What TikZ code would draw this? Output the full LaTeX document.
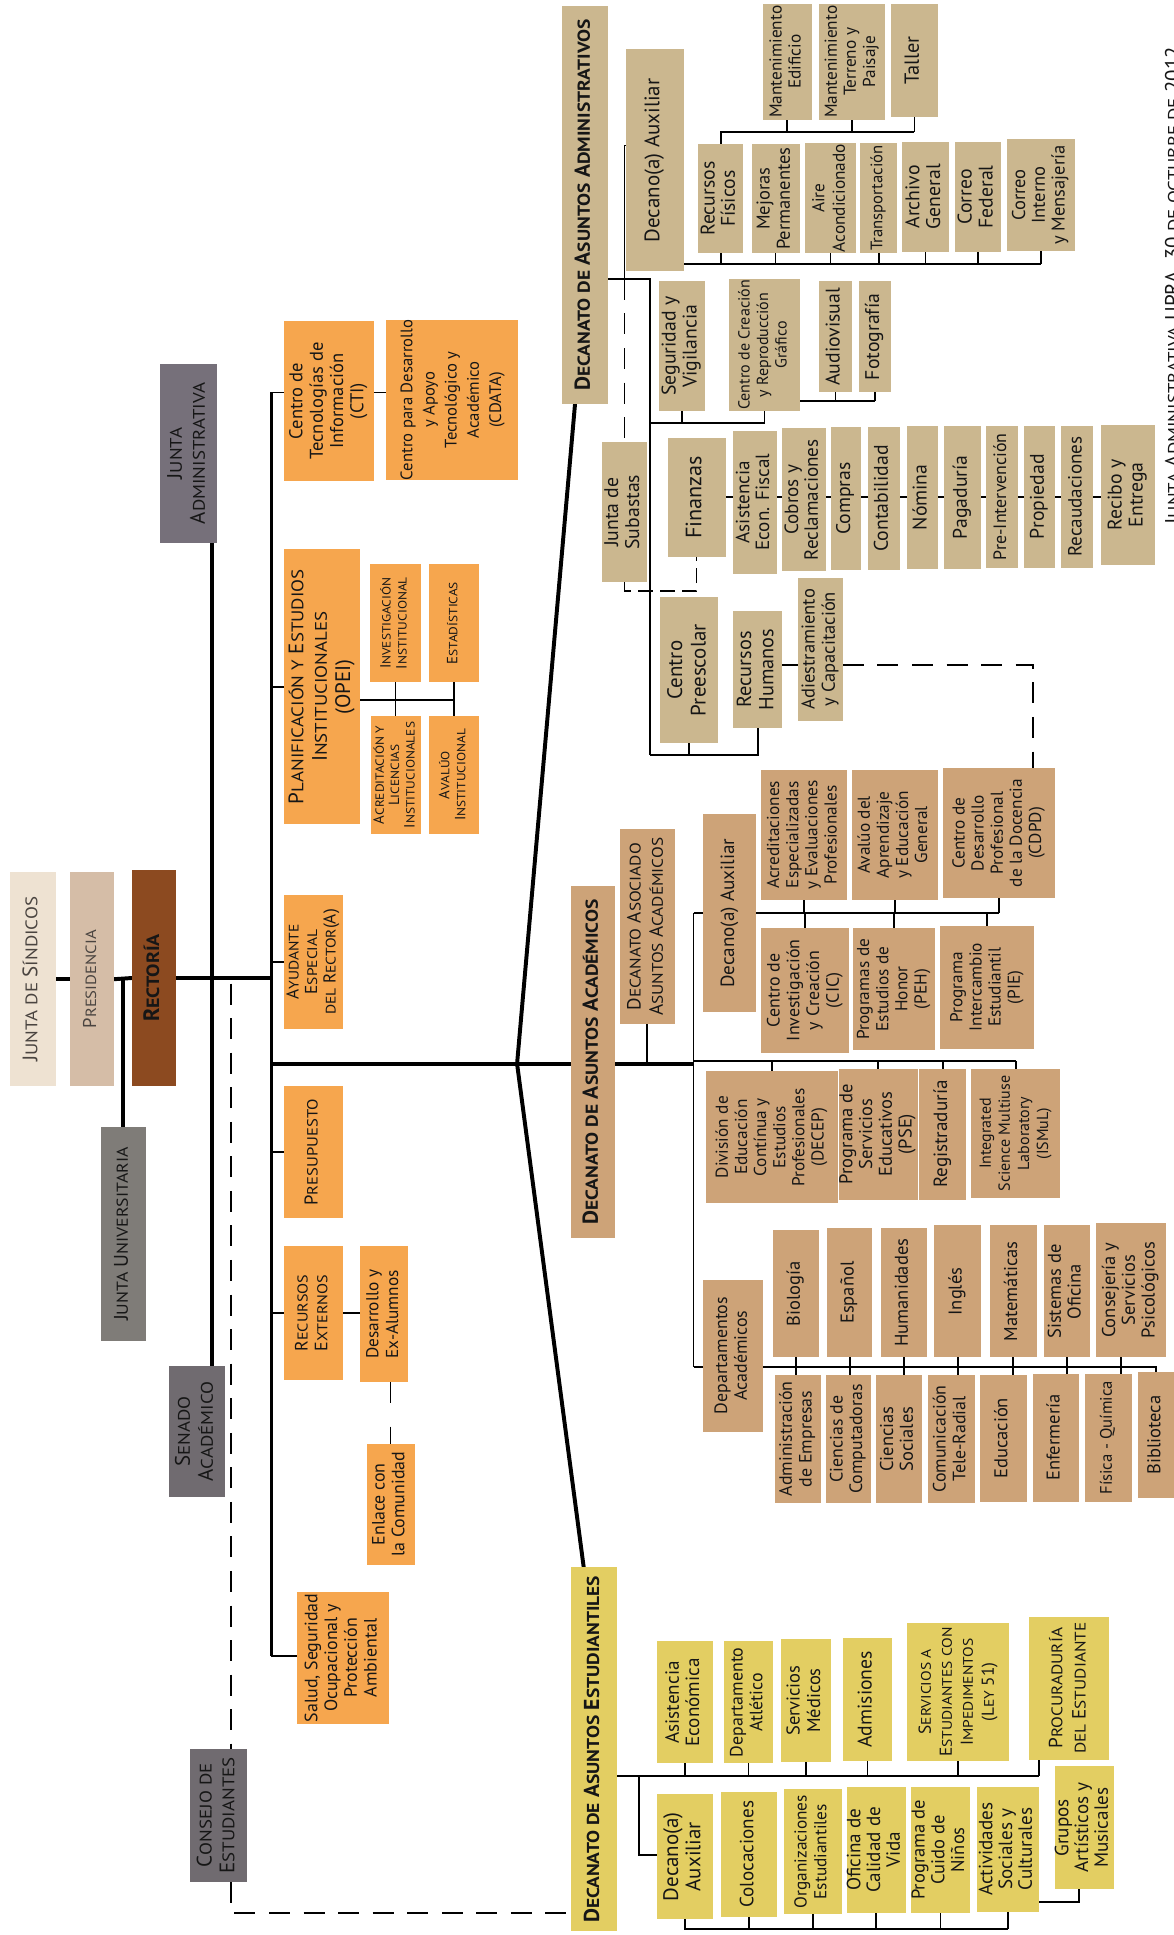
\documentclass[tikz,border=0pt]{standalone}
\usepackage{fontspec}
\setmainfont{PT Sans}
\usepackage{graphicx}
\usetikzlibrary{calc}
\pgfdeclarelayer{bg}
\pgfsetlayers{bg,main}
\definecolor{admC}{HTML}{CBB78F}
\definecolor{acaC}{HTML}{CDA378}
\definecolor{estC}{HTML}{E3CE62}
\definecolor{orgC}{HTML}{F6A64E}
\definecolor{jsC}{HTML}{EEE2D2}
\definecolor{prC}{HTML}{D5BDA7}
\definecolor{rcC}{HTML}{8C4A20}
\definecolor{juC}{HTML}{7F7C78}
\definecolor{jaC}{HTML}{76707A}
\definecolor{seC}{HTML}{706B70}
\definecolor{txC}{HTML}{161616}
\definecolor{lgC}{HTML}{4A4440}
\newcommand\sca[1]{\scalebox{0.9}[0.8]{\MakeUppercase{#1}}}
\newcommand\fsz[2]{\fontsize{#1}{#2}\selectfont}
\newcommand\bx[7]{\node[bxs,#2,minimum width={(#5-#3)*1pt},minimum height={(#6-#4)*1pt}] (#1) at ({(#3+#5)/2},{(#4+#6)/2}) {\rotatebox{90}{\begin{tabular}{@{}c@{}}#7\end{tabular}}};}
\tikzset{
 bxs/.style={inner sep=0pt,outer sep=0pt,text=txC,font=\fsz{14}{15.5}},
 fz/.style 2 args={font=\fsz{#1}{#2}},
 adm/.style={fill=admC}, aca/.style={fill=acaC}, est/.style={fill=estC}, org/.style={fill=orgC},
 hdr/.style={font=\fsz{17.5}{20}\bfseries},
 jsb/.style={fill=jsC,fz={17}{19},text=lgC},
 prb/.style={fill=prC,fz={15}{17},text=lgC},
 rcb/.style={fill=rcC,font=\fsz{18}{20}\bfseries},
 gja/.style={fill=jaC,fz={17}{18.5}},
 jub/.style={fill=juC,fz={16}{18}},
 seb/.style={fill=seC,fz={17}{18.5}},
 thk/.style={line width=3.2pt},
 thn/.style={line width=1.4pt},
 dsh/.style={line width=1.4pt,dash pattern=on 17pt off 11pt},
 dsh2/.style={line width=1.4pt,dash pattern=on 12pt off 6pt},
 note/.style={inner sep=0pt,font=\fsz{17}{19},text=txC}
}
\begin{document}
\begin{tikzpicture}[x=1pt,y=-1pt]
\useasboundingbox (0,0) rectangle (951,1568);
\begin{pgfonlayer}{bg}
\fill[white] (0,0) rectangle (951,1568);
\end{pgfonlayer}
% ---------- left column
\bx{jadm}{gja}{130}{295}{176}{440}{J\sca{unta}\\A\sca{dministrativa}}
\bx{jsin}{jsb}{8}{707}{45}{880}{J\sca{unta de} S\sca{índicos}}
\bx{pres}{prb}{57}{707}{92}{880}{P\sca{residencia}}
\bx{rect}{rcb}{107}{705}{143}{880}{R\sca{ectoría}}
\bx{juni}{jub}{82}{913}{118}{1087}{J\sca{unta} U\sca{niversitaria}}
\bx{sen}{seb}{137}{1107}{182}{1213}{S\sca{enado}\\A\sca{cadémico}}
\bx{cons}{seb}{154}{1417}{200}{1525}{C\sca{onsejo de}\\E\sca{studiantes}}
% ---------- second column
\bx{cti}{org,fz={15}{16.5}}{230}{260}{303}{390}{Centro de\\Tecnologías de\\Información\\(CTI)}
\bx{cdata}{org,fz={13.5}{18}}{313}{260}{420}{388}{Centro para Desarrollo\\y Apoyo\\Tecnológico y\\Académico\\(CDATA)}
\bx{opei}{org,fz={17}{19}}{230}{445}{292}{668}{P\sca{lanificación y} E\sca{studios}\\I\sca{nstitucionales}\\(OPEI)}
\bx{inv}{org,fz={12}{13}}{300}{457}{341}{553}{I\sca{nvestigación}\\I\sca{nstitucional}}
\bx{esta}{org,fz={12}{13}}{348}{457}{388}{553}{E\sca{stadísticas}}
\bx{acr}{org,fz={12}{12.5}}{301}{580}{341}{676}{A\sca{creditación y}\\L\sca{icencias}\\I\sca{nstitucionales}}
\bx{ava}{org,fz={12}{13}}{348}{580}{388}{676}{A\sca{valúo}\\I\sca{nstitucional}}
\bx{ayu}{org,fz={14}{15}}{230}{725}{278}{834}{A\sca{yudante}\\E\sca{special}\\\sca{del} R\sca{ector}(A)}
\bx{pre}{org,fz={15}{16.5}}{230}{880}{278}{987}{P\sca{resupuesto}}
\bx{rext}{org,fz={14.5}{16}}{230}{1010}{278}{1118}{R\sca{ecursos}\\E\sca{xternos}}
\bx{dex}{org,fz={14}{16}}{292}{1010}{331}{1120}{Desarrollo y\\Ex-Alumnos}
\bx{enl}{org,fz={14.5}{16}}{297}{1170}{336}{1268}{Enlace con\\la Comunidad}
\bx{sal}{org,fz={14.5}{16}}{241}{1290}{315}{1397}{Salud, Seguridad\\Ocupacional y\\Protección\\Ambiental}
% ---------- administrativos
\bx{daa}{adm,hdr}{455}{5}{493}{327}{D\sca{ecanato de} A\sca{suntos} A\sca{dministrativos}}
\bx{dauxA}{adm,fz={17}{19}}{507}{40}{554}{220}{Decano(a) Auxiliar}
\bx{me}{adm,fz={14}{15.5}}{618}{3}{658}{97}{Mantenimiento\\Edificio}
\bx{mt}{adm,fz={14}{15.5}}{664}{3}{717}{97}{Mantenimiento\\Terreno y\\Paisaje}
\bx{ta}{adm,fz={16.5}{18}}{722}{3}{760}{95}{Taller}
\bx{rf}{adm,fz={16}{16.5}}{566}{117}{602}{205}{Recursos\\Físicos}
\bx{mp}{adm,fz={15}{16.5}}{609}{117}{648}{205}{Mejoras\\Permanentes}
\bx{aa}{adm,fz={14}{16.5}}{652}{116}{694}{205}{Aire\\Acondicionado}
\bx{tr}{adm,fz={13.5}{15}}{697}{116}{727}{205}{Transportación}
\bx{ag}{adm,fz={16}{17}}{731}{115}{769}{204}{Archivo\\General}
\bx{cf}{adm,fz={16}{17}}{774}{115}{811}{204}{Correo\\Federal}
\bx{ci}{adm,fz={15}{16}}{816}{113}{871}{203}{Correo\\Interno\\y Mensajería}
\bx{sv}{adm,fz={16}{17}}{534}{228}{571}{333}{Seguridad y\\Vigilancia}
\bx{ccr}{adm,fz={13}{15}}{591}{226}{648}{333}{Centro de Creación\\y Reproducción\\Gráfico}
\bx{av}{adm,fz={16}{17}}{664}{228}{690}{318}{Audiovisual}
\bx{fo}{adm,fz={16}{17}}{696}{228}{722}{318}{Fotografía}
\bx{jsub}{adm,fz={16}{17}}{488}{358}{524}{472}{Junta de\\Subastas}
\bx{fin}{adm,fz={18}{19}}{541}{355}{588}{451}{Finanzas}
\bx{aef}{adm,fz={15.5}{16}}{594}{349}{630}{465}{Asistencia\\Econ. Fiscal}
\bx{cyr}{adm,fz={15.5}{16}}{634}{347}{669}{463}{Cobros y\\Reclamaciones}
\bx{com}{adm,fz={16}{17}}{673}{346}{698}{462}{Compras}
\bx{con}{adm,fz={16}{17}}{703}{346}{729}{462}{Contabilidad}
\bx{nom}{adm,fz={16}{17}}{735}{345}{760}{461}{Nómina}
\bx{pag}{adm,fz={16}{17}}{765}{345}{795}{461}{Pagaduría}
\bx{pin}{adm,fz={14.5}{16}}{799}{345}{825}{460}{Pre-Intervención}
\bx{prop}{adm,fz={16}{17}}{830}{345}{855}{460}{Propiedad}
\bx{rec}{adm,fz={15.5}{17}}{860}{345}{886}{460}{Recaudaciones}
\bx{rye}{adm,fz={16}{17}}{892}{344}{936}{458}{Recibo y\\Entrega}
\bx{cpre}{adm,fz={17}{19}}{535}{484}{582}{602}{Centro\\Preescolar}
\bx{rh}{adm,fz={16.5}{18}}{594}{495}{634}{590}{Recursos\\Humanos}
\bx{adi}{adm,fz={15}{16.5}}{647}{468}{683}{584}{Adiestramiento\\y Capacitación}
% ---------- academicos
\bx{daac}{aca,hdr}{463}{718}{498}{1003}{D\sca{ecanato de} A\sca{suntos} A\sca{cadémicos}}
\bx{dasoc}{aca,fz={15.5}{18}}{502}{672}{547}{830}{D\sca{ecanato} A\sca{sociado}\\A\sca{suntos} A\sca{cadémicos}}
\bx{dauxC}{aca,fz={15.5}{17}}{570}{660}{613}{820}{Decano(a) Auxiliar}
\bx{aeep}{aca}{617}{624}{686}{729}{Acreditaciones\\Especializadas\\y Evaluaciones\\Profesionales}
\bx{aaeg}{aca}{690}{624}{760}{729}{Avalúo del\\Aprendizaje\\y Educación\\General}
\bx{cdpd}{aca}{764}{622}{855}{728}{Centro de\\Desarrollo\\Profesional\\de la Docencia\\(CDPD)}
\bx{cic}{aca,fz={14.5}{16}}{617}{752}{688}{853}{Centro de\\Investigación\\y Creación\\(CIC)}
\bx{peh}{aca}{691}{752}{758}{851}{Programas de\\Estudios de\\Honor\\(PEH)}
\bx{pie}{aca}{762}{750}{838}{850}{Programa\\Intercambio\\Estudiantil\\(PIE)}
\bx{decep}{aca}{572}{868}{679}{975}{División de\\Educación\\Contínua y\\Estudios\\Profesionales\\(DECEP)}
\bx{pse}{aca,fz={15}{16}}{682}{866}{741}{972}{Programa de\\Servicios\\Educativos\\(PSE)}
\bx{reg}{aca,fz={15.5}{17}}{745}{866}{783}{972}{Registraduría}
\bx{ism}{aca,fz={13}{15.5}}{787}{866}{859}{971}{Integrated\\Science Multiuse\\Laboratory\\(ISMuL)}
\bx{dep}{aca,fz={14.5}{16}}{570}{1037}{618}{1160}{Departamentos\\Académicos}
\bx{bio}{aca,fz={15}{16}}{626}{997}{664}{1100}{Biología}
\bx{esp}{aca,fz={15}{16}}{670}{995}{707}{1100}{Español}
\bx{hum}{aca,fz={15}{16}}{714}{995}{751}{1100}{Humanidades}
\bx{ing}{aca,fz={15}{16}}{757}{993}{795}{1100}{Inglés}
\bx{mat}{aca,fz={15}{16}}{802}{993}{840}{1100}{Matemáticas}
\bx{sis}{aca,fz={15}{16}}{846}{993}{883}{1100}{Sistemas de\\Oficina}
\bx{csp}{aca,fz={15}{16}}{888}{991}{945}{1100}{Consejería y\\Servicios\\Psicológicos}
\bx{ade}{aca,fz={14.5}{16}}{628}{1114}{665}{1218}{Administración\\de Empresas}
\bx{cco}{aca,fz={14.5}{16}}{669}{1114}{706}{1218}{Ciencias de\\Computadoras}
\bx{cso}{aca,fz={15}{16}}{710}{1114}{747}{1218}{Ciencias\\Sociales}
\bx{ctr}{aca,fz={14.5}{16}}{752}{1114}{790}{1218}{Comunicación\\Tele-Radial}
\bx{edu}{aca,fz={15}{16}}{794}{1114}{832}{1217}{Educación}
\bx{enf}{aca,fz={15}{16}}{837}{1113}{874}{1217}{Enfermería}
\bx{fq}{aca,fz={13.5}{15}}{879}{1113}{917}{1217}{Física - Química}
\bx{bib}{aca,fz={15}{16}}{922}{1112}{952}{1214}{Biblioteca}
% ---------- estudiantiles
\bx{dae}{est,hdr}{463}{1270}{500}{1565}{D\sca{ecanato de} A\sca{suntos} E\sca{studiantiles}}
\bx{aec}{est,fz={15.5}{16.5}}{532}{1330}{578}{1429}{Asistencia\\Económica}
\bx{dat}{est,fz={14.5}{16}}{587}{1330}{626}{1429}{Departamento\\Atlético}
\bx{sme}{est,fz={15}{16.5}}{633}{1328}{673}{1428}{Servicios\\Médicos}
\bx{admi}{est,fz={16}{17}}{683}{1327}{723}{1427}{Admisiones}
\bx{sei}{est,fz={14}{17}}{735}{1315}{818}{1427}{S\sca{ervicios a}\\E\sca{studiantes con}\\I\sca{mpedimentos}\\(L\sca{ey} 51)}
\bx{proc}{est,fz={15.5}{19}}{834}{1310}{899}{1426}{P\sca{rocuraduría}\\\sca{del} E\sca{studiante}}
\bx{dauxE}{est,fz={17}{18}}{532}{1454}{578}{1555}{Decano(a)\\Auxiliar}
\bx{col}{est,fz={15.5}{17}}{584}{1452}{630}{1553}{Colocaciones}
\bx{oes}{est,fz={14}{16}}{635}{1450}{682}{1551}{Organizaciones\\Estudiantiles}
\bx{ocv}{est,fz={15.5}{16}}{686}{1448}{734}{1550}{Oficina de\\Calidad de\\Vida}
\bx{pcn}{est,fz={15}{16}}{738}{1448}{786}{1550}{Programa de\\Cuido de\\Niños}
\bx{asc}{est,fz={15.5}{16}}{792}{1448}{842}{1549}{Actividades\\Sociales y\\Culturales}
\bx{gam}{est,fz={15.5}{16}}{855}{1431}{902}{1531}{Grupos\\Artísticos y\\Musicales}
% ---------- side note (cut by the page edge)
\node[note,rotate=90,anchor=base west] (nt) at (956,425) {J\sca{unta} A\sca{dministrativa} UPRA, 30 \sca{de octubre de} 2012};
% ---------- connectors
\begin{pgfonlayer}{bg}
\coordinate (trA) at (220,318);
\coordinate (trZ) at (220,1342);
\coordinate (jA) at (172,440);
\coordinate (dA) at (187,797);
\coordinate (dB) at (187,1550);
\coordinate (F) at (419,862);
\draw[thk] (jsin.east) -- (pres.west);
\draw[thk] (pres.east) -- (rect.west);
\draw[thk] (juni.north |- pres.east) -- (juni.north);
\draw[thk] (rect.east) -- (rect.east -| trA);
\draw[thk] (jadm.south -| jA) -- (sen.north -| jA);
\draw[dsh] (dA) -- (cons.north -| dA);
\draw[dsh] (cons.south -| dA) -- (dB) -- (dae.west |- dB);
% second column
\draw[thk] (trA) -- (trZ);
\draw[thn] (trA) -- (cti.west |- trA);
\draw[thn] (cti.east |- trA) -- (cdata.west |- trA);
\draw[thn] (trA |- opei.west) -- (opei.west);
\coordinate (oB) at (367,567);
\draw[thn] (opei.east |- oB) -- (esta.south |- oB);
\draw[thn] (inv.south) -- (inv.south |- acr.north);
\draw[thn] (esta.south) -- (esta.south |- ava.north);
\draw[thn] (trA |- ayu.west) -- (ayu.west);
\draw[thn] (trA |- pre.west) -- (pre.west);
\draw[thn] (trA |- rext.west) -- (rext.west);
\draw[thn] (rext.east) -- (dex.west |- rext.east);
\draw[thn,dash pattern=on 17pt off 19pt] (dex.south -| enl.north) -- (enl.north);
\draw[thn] (trZ) -- (trZ -| sal.west);
% fork
\draw[thk] (trA |- F) -- (F) -- (daac.west |- F);
\draw[thk] (F) -- ([xshift=11pt]daa.south west);
\draw[thk] (F) -- ([xshift=10pt]dae.north west);
% administrativos
\coordinate (aJ) at (527,226);
\coordinate (aH) at (506,118);
\coordinate (aP) at (527,612);
\draw[thn] (daa.east |- aJ) -- (aJ) -- (aP);
\draw[thn] (aJ -| aH) -- (aH) -- (dauxA.west |- aH);
\draw[dsh] (aJ -| aH) -- (jsub.north);
\coordinate (rB) at (554,214);
\draw[thn] (rB) -- (rB -| ci.south);
\foreach \n in {rf,mp,aa,tr,ag,cf,ci} \draw[thn] (\n.south) -- (\n.south |- rB);
\coordinate (mB) at (0,107);
\draw[thn] (rf.north) -- (rf.north |- mB) -- (ta.south |- mB);
\foreach \n in {me,mt,ta} \draw[thn] (\n.south) -- (\n.south |- mB);
\coordinate (sB) at (0,343);
\draw[thn] (aJ |- sB) -- (ccr.south |- sB) -- (ccr.south);
\draw[thn] (sv.south) -- (sv.south |- sB);
\coordinate (vB) at (0,325);
\draw[thn] (ccr.east |- vB) -- (fo.south |- vB);
\draw[thn] (av.south) -- (av.south |- vB);
\draw[thn] (fo.south) -- (fo.south |- vB);
\coordinate (fL) at (0,403);
\draw[thn] (fin.east |- fL) -- (rye.west |- fL);
\coordinate (sF) at (0,479);
\draw[dsh2] (jsub.south) -- (jsub.south |- sF) -- (fin.south |- sF) -- (fin.south);
\draw[thn] (aP) -- (rh.south |- aP) -- (rh.south);
\draw[thn] (cpre.south) -- (cpre.south |- aP);
\coordinate (hY) at (0,539);
\coordinate (hX) at (837,539);
\draw[thn] (rh.east |- hY) -- (adi.west |- hY);
\draw[dsh] (adi.east |- hY) -- (hX) -- (hX |- cdpd.north);
% academicos
\coordinate (cV) at (562,740);
\coordinate (cD) at (562,1108);
\coordinate (cH) at (0,860);
\draw[thn] (cV) -- (dauxC.west |- cV);
\draw[thn] (dauxC.east |- cV) -- (cdpd.south |- cV);
\foreach \n in {aeep,aaeg,cdpd} \draw[thn] (\n.south) -- (\n.south |- cV);
\foreach \n in {cic,peh,pie} \draw[thn] (\n.north) -- (\n.north |- cV);
\draw[thn] (cV) -- (cD);
\draw[thk] (daac.east |- F) -- (F -| cV);
\draw[thn] (cV |- cH) -- (ism.north |- cH);
\foreach \n in {decep,pse,reg,ism} \draw[thn] (\n.north) -- (\n.north |- cH);
\draw[thn] (dasoc.south) -- (dasoc.south |- F);
\draw[thn] (cD) -- (dep.west |- cD);
\draw[thn] (dep.east |- cD) -- (bib.north |- cD) -- (bib.north);
\foreach \a/\b in {bio/ade,esp/cco,hum/cso,ing/ctr,mat/edu,sis/enf} \draw[thn] (\a.south) -- (\a.south |- \b.north);
\draw[thn] ([xshift=-8pt]csp.south) -- ([xshift=-8pt]csp.south |- fq.north);
% estudiantiles
\coordinate (eU) at (0,1439);
\coordinate (eV) at (518,1503);
\coordinate (eB) at (0,1563);
\coordinate (eG) at (0,1541);
\draw[thn] (dae.east |- eU) -- ([xshift=8pt]proc.south west |- eU);
\foreach \n in {aec,dat,sme,admi,sei} \draw[thn] (\n.south) -- (\n.south |- eU);
\draw[thn] ([xshift=8pt]proc.south west) -- ([xshift=8pt]proc.south west |- eU);
\draw[thn] (eV |- eU) -- (eV) -- (dauxE.west |- eV);
\draw[thn] (dauxE.south) -- (dauxE.south |- eB) -- (asc.south |- eB);
\foreach \n in {col,oes,ocv,pcn,asc} \draw[thn] (\n.south) -- (\n.south |- eB);
\draw[thn] (asc.east |- eG) -- ([xshift=20pt]gam.south west |- eG) -- ([xshift=20pt]gam.south west);
\end{pgfonlayer}
\end{tikzpicture}
\end{document}
